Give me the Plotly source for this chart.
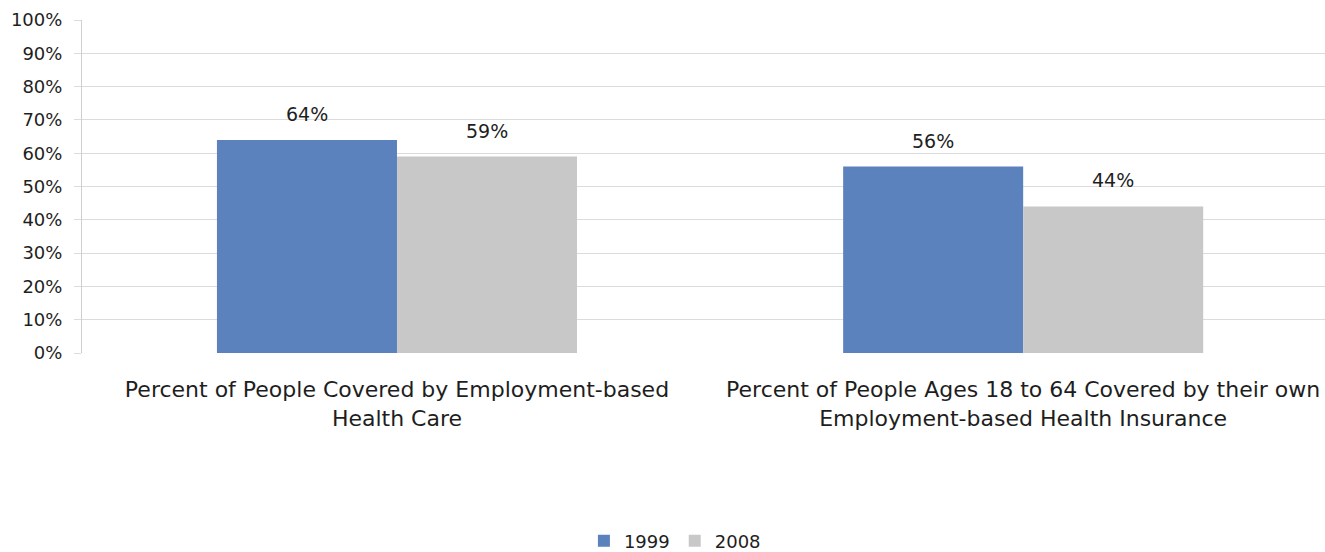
import plotly.graph_objects as go

categories = [
    "Percent of People Covered by Employment-based<br>Health Care",
    "Percent of People Ages 18 to 64 Covered by their own<br>Employment-based Health Insurance",
]
years = ["1999", "2008"]
values_1999 = [64, 56]
values_2008 = [59, 44]
tick_vals = [0, 10, 20, 30, 40, 50, 60, 70, 80, 90, 100]
tick_text = [f"{v}%" for v in tick_vals]

colors = {"1999": "#5b82bd", "2008": "#c8c8c8"}
font_family = "'DejaVu Sans', Verdana, sans-serif"
text_color = "#1e1e1e"

fig = go.Figure()
series = [values_1999, values_2008]
for year, vals in zip(years, series):
    fig.add_trace(go.Bar(
        name=year,
        x=categories,
        y=vals,
        marker=dict(color=colors[year], line=dict(width=0)),
        cliponaxis=False,
    ))

# value labels above each bar (bar width in pixels ~180, offset half a bar)
bar_px = 180
for i, (year, vals) in enumerate(zip(years, series)):
    offset = (-0.5 if i == 0 else 0.5) * bar_px
    for cat, v in zip(categories, vals):
        fig.add_annotation(
            x=cat, y=v, xref="x", yref="y",
            text=f"{v}%", showarrow=False,
            xshift=offset, yshift=13, yanchor="bottom",
            font=dict(size=19, color=text_color, family=font_family),
        )

fig.update_layout(
    width=1325,
    height=552,
    barmode="group",
    bargap=0.425,
    bargroupgap=0,
    plot_bgcolor="white",
    paper_bgcolor="white",
    margin=dict(l=82, r=0, t=20, b=199, autoexpand=False),
    font=dict(family=font_family, size=16, color=text_color),
    showlegend=True,
    legend=dict(
        orientation="h",
        x=0.477,
        xanchor="center",
        y=-0.565,
        yanchor="middle",
        font=dict(size=18, color=text_color),
        traceorder="normal",
    ),
    xaxis=dict(
        range=[-0.503, 1.482],
        showline=False,
        ticks="outside",
        ticklen=17,
        tickcolor="rgba(0,0,0,0)",
        tickfont=dict(size=22, color=text_color),
        automargin=False,
    ),
    yaxis=dict(
        range=[0, 100],
        tickvals=tick_vals,
        ticktext=tick_text,
        showgrid=True,
        gridcolor="#dcdcdc",
        gridwidth=1,
        showline=True,
        linecolor="#cfcfcf",
        linewidth=1,
        ticks="outside",
        ticklen=7,
        tickcolor="#dcdcdc",
        ticklabelstandoff=8,
        tickfont=dict(size=18, color=text_color),
        zeroline=False,
        automargin=False,
    ),
)

fig.write_html("out.html")
